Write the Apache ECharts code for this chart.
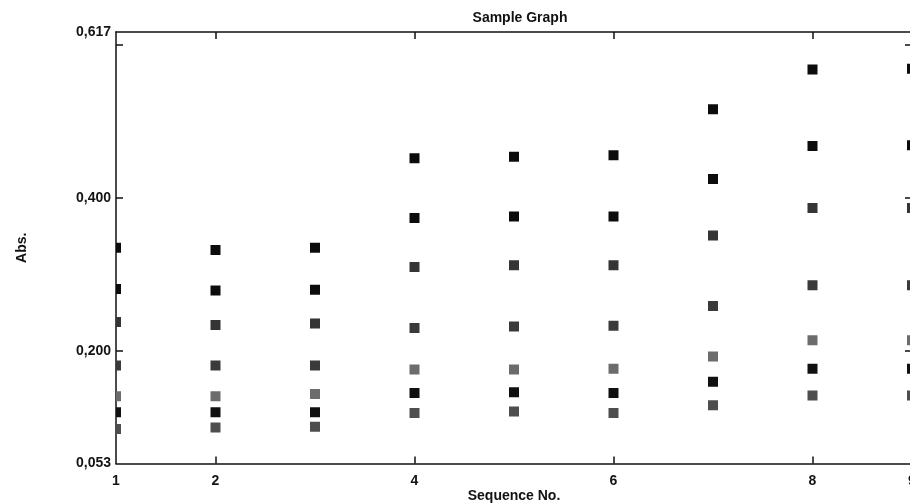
<!DOCTYPE html>
<html>
<head>
<meta charset="utf-8">
<script src="https://cdn.jsdelivr.net/npm/echarts@6/dist/echarts.min.js"></script>
<style>
html,body{margin:0;padding:0;background:#ffffff;}
#chart{width:910px;height:504px;}
</style>
</head>
<body>
<div id="chart"></div>
<script>
// ---- data ----
const sequenceNo = [1, 2, 3, 4, 5, 6, 7, 8, 9];
const row1 = [0.335, 0.332, 0.335, 0.452, 0.454, 0.456, 0.516, 0.568, 0.569];
const row2 = [0.281, 0.279, 0.280, 0.374, 0.376, 0.376, 0.425, 0.468, 0.469];
const row3 = [0.238, 0.234, 0.236, 0.310, 0.312, 0.312, 0.351, 0.387, 0.387];
const row4 = [0.181, 0.181, 0.181, 0.230, 0.232, 0.233, 0.259, 0.286, 0.286];
const row5 = [0.141, 0.141, 0.144, 0.176, 0.176, 0.177, 0.193, 0.214, 0.214];
const row6 = [0.120, 0.120, 0.120, 0.145, 0.146, 0.145, 0.160, 0.177, 0.177];
const row7 = [0.098, 0.100, 0.101, 0.119, 0.121, 0.119, 0.129, 0.142, 0.142];
const xLabelValues = [1, 2, 4, 6, 8, 9];
const xTickValues = [2, 4, 6, 8];
const yLabelValues = [0.053, 0.200, 0.400, 0.617];
const yTickValues = [0.2, 0.4, 0.6];
const yMin = 0.053, yMax = 0.617, xMin = 1, xMax = 9;

// ---- styling ----
const FONT = 'Liberation Sans, Arial, Helvetica, sans-serif';
const INK = '#111111';
const rows = [row1, row2, row3, row4, row5, row6, row7];
const rowColors = ['#0c0c0c', '#0c0c0c', '#353535', '#3a3a3a', '#6c6c6c', '#101010', '#4e4e4e'];
const MARK = 10;

function renderSquare(color) {
  return function (params, api) {
    const p = api.coord([api.value(0), api.value(1)]);
    return {
      type: 'rect',
      shape: { x: p[0] - MARK / 2, y: p[1] - MARK / 2, width: MARK, height: MARK },
      style: { fill: color }
    };
  };
}

const axisLineStyle = { show: true, onZero: false, lineStyle: { color: INK, width: 1.5 } };
const labelStyle = { color: '#141414', fontSize: 14, fontWeight: 'bold', fontFamily: FONT };

const chart = echarts.init(document.getElementById('chart'), null, { renderer: 'canvas' });
chart.setOption({
  animation: false,
  backgroundColor: '#ffffff',
  title: {
    text: 'Sample Graph',
    left: 515,
    textAlign: 'center',
    top: 6,
    textStyle: { fontSize: 14, fontWeight: 'bold', color: INK, fontFamily: FONT }
  },
  grid: { left: 116, top: 32, right: -2, bottom: 40.5, containLabel: false, outerBoundsMode: 'none' },
  xAxis: [{
    type: 'value', position: 'bottom', min: xMin, max: xMax,
    name: 'Sequence No.', nameLocation: 'middle', nameGap: 26, nameMoveOverlap: false,
    nameTextStyle: { fontSize: 14, fontWeight: 'bold', color: INK, fontFamily: FONT },
    axisLine: axisLineStyle,
    axisTick: { show: true, inside: true, length: 7, customValues: xTickValues, lineStyle: { color: INK, width: 1.5 } },
    axisLabel: { show: true, margin: 11, customValues: xLabelValues, ...labelStyle },
    splitLine: { show: false }
  }, {
    type: 'value', position: 'top', min: xMin, max: xMax,
    axisLine: axisLineStyle,
    axisTick: { show: true, inside: true, length: 7, customValues: xTickValues, lineStyle: { color: INK, width: 1.5 } },
    axisLabel: { show: false },
    splitLine: { show: false }
  }],
  yAxis: [{
    type: 'value', position: 'left', min: yMin, max: yMax,
    name: 'Abs.', nameLocation: 'middle', nameGap: 87, nameMoveOverlap: false,
    nameTextStyle: { fontSize: 14, fontWeight: 'bold', color: INK, fontFamily: FONT },
    axisLine: axisLineStyle,
    axisTick: { show: true, inside: true, length: 7, customValues: yTickValues, lineStyle: { color: INK, width: 1.5 } },
    axisLabel: {
      show: true, margin: 5, customValues: yLabelValues, ...labelStyle,
      formatter: v => Number(v).toFixed(3).replace('.', ',')
    },
    splitLine: { show: false }
  }, {
    type: 'value', position: 'right', min: yMin, max: yMax,
    axisLine: axisLineStyle,
    axisTick: { show: true, inside: true, length: 7, customValues: yTickValues, lineStyle: { color: INK, width: 1.5 } },
    axisLabel: { show: false },
    splitLine: { show: false }
  }],
  series: rows.map((vals, i) => ({
    type: 'custom',
    name: 'Series ' + (i + 1),
    xAxisIndex: 0,
    yAxisIndex: 0,
    clip: true,
    renderItem: renderSquare(rowColors[i]),
    encode: { x: 0, y: 1 },
    data: sequenceNo.map((s, j) => [s, vals[j]])
  }))
});
</script>
</body>
</html>
